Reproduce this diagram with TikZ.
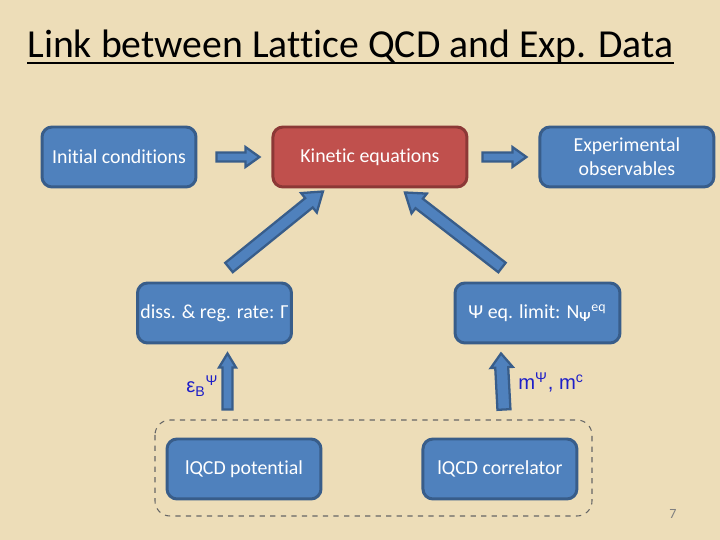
\documentclass[tikz,border=0pt]{standalone}
\usepackage{fontspec}
\setmainfont{Carlito}[Ligatures=CommonOff]
\newfontfamily\arialfont{Liberation Sans}
\usetikzlibrary{positioning, calc}
\definecolor{paper}{RGB}{237,221,184}
\definecolor{boxBlue}{RGB}{79,129,189}
\definecolor{boxEdge}{RGB}{56,93,138}
\definecolor{keRed}{RGB}{192,80,77}
\definecolor{keEdge}{RGB}{140,56,54}
\definecolor{labBlue}{RGB}{30,30,200}
\tikzset{
  qcdBox/.style={rectangle, rounded corners=0.2cm, draw=boxEdge, fill=boxBlue, line width=1.7pt, text=white, align=center, font=\fontsize{11.3}{13.6}\selectfont, minimum width=3.08cm, minimum height=1.2cm, inner sep=1pt},
  qcdArr/.style={draw=boxEdge, fill=boxBlue, line width=1.3pt, line join=miter},
  qcdLab/.style={text=labBlue, font=\arialfont\fontsize{11.5}{14}\selectfont, inner sep=0pt},
  qcdGroup/.style={draw=gray!80!black, dashed, rounded corners=0.3cm, line width=0.6pt},
}
% tail, tip, shaft half width, wing half width, head length
\newcommand\blockArrow[5]{%
  \coordinate (neck) at ($(#2)!#5!(#1)$);
  \path[qcdArr] ($(#1)!#3!90:(#2)$) -- ($(neck)!#3!90:(#2)$) -- ($(neck)!#4!90:(#2)$) -- (#2)
    -- ($(neck)!#4!-90:(#2)$) -- ($(neck)!#3!-90:(#2)$) -- ($(#1)!#3!-90:(#2)$) -- cycle;
}
\begin{document}
\begin{tikzpicture}[x=0.02cm, y=0.02cm]
\fill[paper] (0,0) rectangle (720,540);
\useasboundingbox (0,0) rectangle (720,540);

\node (title) [anchor=base west, inner sep=0pt, font=\fontsize{22.6}{27}\selectfont] at (27,482) {Link between Lattice QCD and Exp. Data};
\draw[line width=1.2pt] ($(title.base west)+(0,-5)$) -- ($(title.base east)+(0,-5)$);

% top row
\node (init) [qcdBox] at (119,383) {Initial conditions};
\node (kin) [qcdBox, right=1.48cm of init, minimum width=3.88cm, fill=keRed, draw=keEdge] {Kinetic equations};
\node (obs) [qcdBox, right=1.4cm of kin, minimum width=3.48cm] {Experimental\\observables};

% middle row
\node (rate) [qcdBox] at (214.5,227) {diss. \& reg. rate: Γ};
\node (eqlim) [qcdBox, minimum width=3.3cm] at (537.5,227) {Ψ eq. limit: N\textsubscript{\textbf{Ψ}}\textsuperscript{eq}};

% lattice inputs
\node (pot) [qcdBox] at (244,71) {lQCD potential};
\node (corr) [qcdBox, right=1.98cm of pot] {lQCD correlator};
\draw[qcdGroup] (155,120) rectangle (592,24);

\coordinate (a1t) at ($(init.east)+(19,0)$);
\coordinate (a1h) at ($(kin.west)+(-12,0)$);
\coordinate (a2t) at ($(kin.east)+(14,0)$);
\coordinate (a2h) at ($(obs.west)+(-12,0)$);
\coordinate (dLt) at ($(rate.north)+(14.5,14)$);
\coordinate (dLh) at ($(kin.south)+(-47,-3)$);
\coordinate (dRt) at ($(eqlim.north)+(-35.5,14)$);
\coordinate (dRh) at ($(kin.south)+(35,-4)$);
\coordinate (vLt) at ($(pot.north)+(-16.5,28)$);
\coordinate (vLh) at ($(rate.south)+(13,-9)$);
\coordinate (vRt) at ($(corr.north)+(4,28)$);
\coordinate (vRh) at ($(eqlim.south)+(-36.5,-9)$);

\blockArrow{a1t}{a1h}{0.09cm}{0.2cm}{0.28cm}
\blockArrow{a2t}{a2h}{0.09cm}{0.2cm}{0.28cm}
\blockArrow{dLt}{dLh}{0.12cm}{0.25cm}{0.36cm}
\blockArrow{dRt}{dRh}{0.12cm}{0.25cm}{0.36cm}
\blockArrow{vLt}{vLh}{0.1cm}{0.17cm}{0.28cm}
\blockArrow{vRt}{vRh}{0.13cm}{0.22cm}{0.28cm}

\node (epsB) [qcdLab, anchor=base west] at (186,147) {ε\textsubscript{B}\textsuperscript{Ψ}};
\node (mass) [qcdLab, anchor=base west] at (518,150) {m\textsuperscript{Ψ}, m\textsuperscript{c}};
\node (page) [font=\fontsize{8}{10}\selectfont, text=gray] at (673,26) {7};
\end{tikzpicture}
\end{document}
